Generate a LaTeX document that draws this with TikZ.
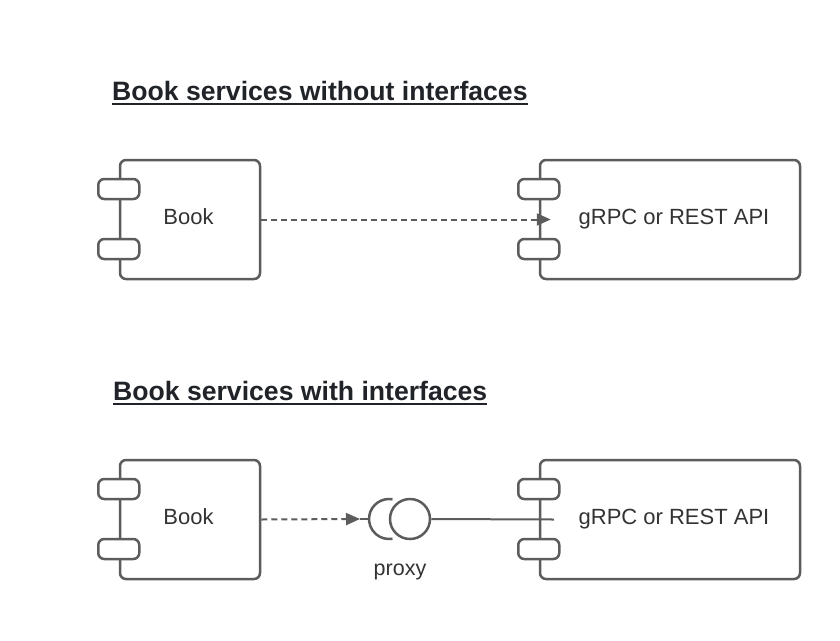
\documentclass[tikz,border=0pt]{standalone}
\usepackage{fontspec}
\setmainfont{Liberation Sans}
\usetikzlibrary{arrows.meta}
\definecolor{lc}{HTML}{5C5C5C}
\definecolor{tc}{HTML}{333333}
\definecolor{hc}{HTML}{202328}
\begin{document}
\begin{tikzpicture}[x=1pt,y=-1pt,
  comp/.style={draw=lc, line width=2.5pt, rounded corners=6pt, fill=white,
    inner sep=0pt, text=tc, font=\fontsize{22}{24}\selectfont,
    text height=15.8pt, text depth=0pt},
  port/.style={draw=lc, line width=2.5pt, rounded corners=6pt, fill=white,
    minimum width=41pt, minimum height=20pt, inner sep=0pt},
  heading/.style={anchor=base west, inner sep=0pt, text=hc,
    font=\fontsize{26.6}{30}\selectfont\bfseries},
  uline/.style={draw=hc, line width=2pt},
  conn/.style={draw=lc, line width=2pt},
  dconn/.style={conn, dash pattern=on 6pt off 4pt},
  tip/.style={-{Triangle[length=14pt,width=12pt]}},
  lbl/.style={text=tc, font=\fontsize{21.5}{24}\selectfont, inner sep=0pt, anchor=base}
]
\useasboundingbox (0,0) rectangle (840,640);
\fill[white] (0,0) rectangle (840,640);

% headings
\node[heading] (h1) at (112,100) {Book services without interfaces};
\draw[uline] (h1.base west) ++(0,3.5) coordinate (u1a) -- (h1.base east |- u1a);
\node[heading] (h2) at (113,400) {Book services with interfaces};
\draw[uline] (h2.base west) ++(0,3.5) coordinate (u2a) -- (h2.base east |- u2a);

% top row
\node[comp, minimum width=140pt, minimum height=119pt] (book1) at (190,219.5) {\raisebox{2.5pt}{\hspace{-3pt}Book}};
\node[port] (book1p1) at (book1.west |- 0,189) {};
\node[port] (book1p2) at (book1.west |- 0,249) {};
\node[comp, minimum width=260pt, minimum height=119pt] (api1) at (670,219.5) {\raisebox{2.5pt}{\hspace{8pt}gRPC or REST API}};
\node[port] (api1p1) at (api1.west |- 0,189) {};
\node[port] (api1p2) at (api1.west |- 0,249) {};
\draw[dconn, tip] (book1.east) -- ([xshift=12pt]api1.west);

% bottom row
\node[comp, minimum width=140pt, minimum height=119pt] (book2) at (190,519.5) {\raisebox{2.5pt}{\hspace{-3pt}Book}};
\node[port] (book2p1) at (book2.west |- 0,489) {};
\node[port] (book2p2) at (book2.west |- 0,549) {};
\node[comp, minimum width=260pt, minimum height=119pt] (api2) at (670,519.5) {\raisebox{2.5pt}{\hspace{8pt}gRPC or REST API}};
\node[port] (api2p1) at (api2.west |- 0,489) {};
\node[port] (api2p2) at (api2.west |- 0,549) {};

\node[draw=lc, line width=2.5pt, circle, minimum size=40pt, inner sep=0pt] (ball) at (410,519) {};
\coordinate (sockc) at (389,519);
\coordinate (sock) at (369,519);
\coordinate (arrtip) at (360,519);
\draw[lc, line width=2.5pt] ([shift={(80:20pt)}]sockc) arc[start angle=80, end angle=280, radius=20pt];
\draw[dconn, tip] (book2.east) -- (arrtip);
\draw[conn] (arrtip) -- (sock);
\draw[conn] (ball.east) -- ([xshift=15pt]api2.west);
\node[lbl] (proxy) at (400,575) {proxy};
\end{tikzpicture}
\end{document}
